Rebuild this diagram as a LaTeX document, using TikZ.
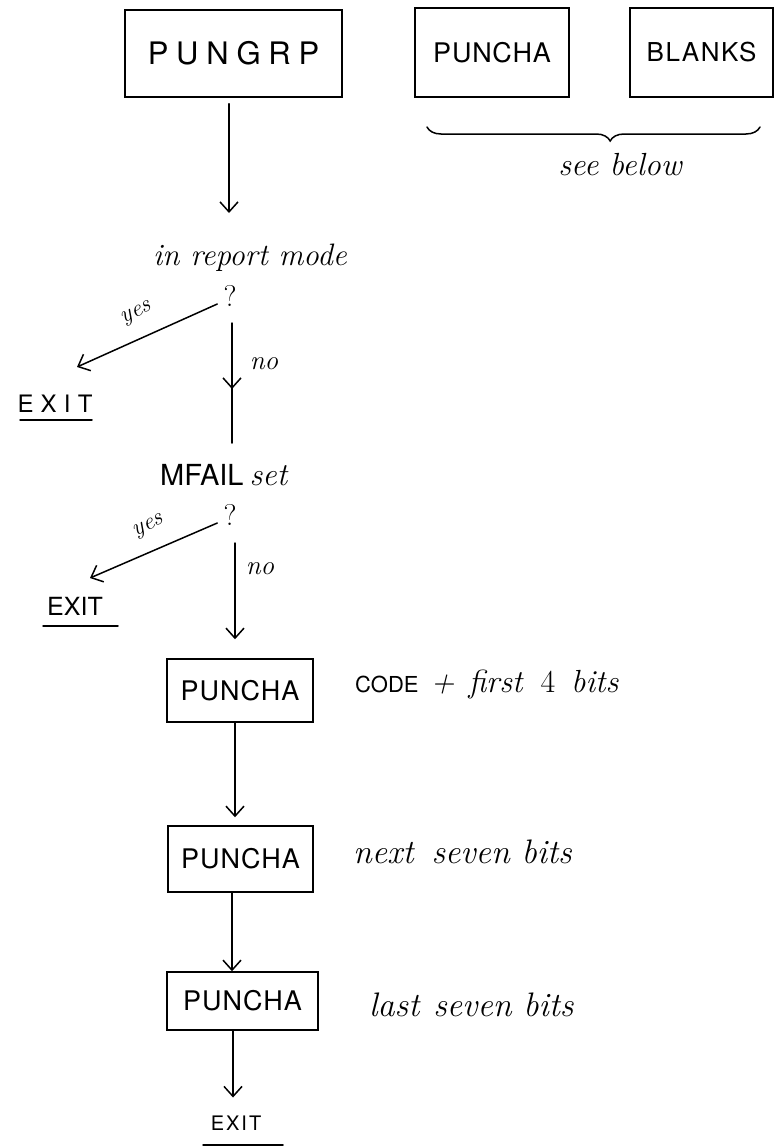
\documentclass[tikz,border=0pt]{standalone}
\usepackage{fontspec}
\setsansfont{TeX Gyre Heros}
\usetikzlibrary{arrows.meta,decorations.pathreplacing,decorations.markings}
\tikzset{
  ln/.style={line width=1.5pt, black, line cap=round},
  arr/.style={ln, -{Straight Barb[length=10pt,width=18pt,line width=1.5pt]}},
  midarr/.style={ln, postaction={decorate}, decoration={markings,
      mark=at position #1 with {\arrow{Straight Barb[length=10pt,width=18pt,line width=1.5pt]}}}},
  box/.style={draw, line width=1.5pt, inner sep=0pt, font=\sffamily},
  hand/.style={inner sep=0pt, font=\itshape\fontsize{32}{36}\selectfont},
  caps/.style={inner sep=0pt, font=\sffamily},
  qmark/.style={inner sep=0pt, font=\fontsize{30}{34}\selectfont},
}
\begin{document}
\begin{tikzpicture}[x=1pt,y=-1pt]
\useasboundingbox (0,0) rectangle (779,1148);

% top row
\node[box, minimum width=217pt, minimum height=87pt] (pungrp) at (233.5,53.5)
  {\fontsize{31}{34}\selectfont\addfontfeatures{LetterSpace=25}PUNGRP};
\node[box, minimum width=154pt, minimum height=89pt] (punchaT) at (492,52.5)
  {\fontsize{27}{30}\selectfont\addfontfeatures{LetterSpace=3}PUNCHA};
\node[box, minimum width=143pt, minimum height=89pt] (blanks) at (701.5,52.5)
  {\fontsize{26}{30}\selectfont\addfontfeatures{LetterSpace=6}BLANKS};
\coordinate (brL) at (427,127);
\coordinate (brR) at (760,127);
\draw[ln, decorate, decoration={brace, mirror, amplitude=14pt, aspect=0.55}] (brL) -- (brR);
\node[hand, anchor=base] (seebelow) at (620,175) {see below};

% first question
\coordinate (c1) at (229,213);
\draw[arr] ([yshift=-6pt]pungrp.south -| c1) -- (c1);
\node[hand, anchor=base, font=\itshape\fontsize{31}{36}\selectfont] (q1text) at (250,265) {in report mode};
\node[qmark] (q1) at (230,296) {?};
\coordinate (e1tip) at (77,367);
\draw[arr] ([xshift=-6pt,yshift=-8pt]q1.west) -- (e1tip);
\node[hand, font=\itshape\fontsize{24}{28}\selectfont, rotate=24.6] (yes1) at (137,314) {yes};
\node[caps, font=\sffamily\fontsize{24}{28}\selectfont\addfontfeatures{LetterSpace=30}] (exit1) at (55,404) {EXIT};
\draw[ln] (20,420) coordinate (u1a) -- (92,420);
\coordinate (n1s) at (232,323);
\coordinate (n1e) at (232,443);
\draw[midarr=0.55] (n1s) -- (n1e);
\node[hand, font=\itshape\fontsize{27}{30}\selectfont] (no1) at (264,364) {no};

% second question
\node[hand, anchor=base west] (mfail) at (160,485)
  {{\upshape\sffamily\fontsize{29}{32}\selectfont MFAIL}\hspace{6pt}set};
\node[qmark] (q2) at (230,515) {?};
\coordinate (e2tip) at (90,578);
\draw[arr] ([xshift=-6pt,yshift=-8pt]q2.west) -- (e2tip);
\node[hand, font=\itshape\fontsize{24}{28}\selectfont, rotate=24.5] (yes2) at (149,527) {yes};
\node[caps, font=\sffamily\fontsize{25}{28}\selectfont] (exit2) at (75,606) {EXIT};
\draw[ln] (43,626) coordinate (u2a) -- (118,626);
\coordinate (n2s) at (235,543);
\node[hand, font=\itshape\fontsize{27}{30}\selectfont] (no2) at (260,569) {no};

% PUNCHA chain
\node[box, minimum width=146pt, minimum height=63pt] (p1) at (240,690.5)
  {\fontsize{27}{30}\selectfont\addfontfeatures{LetterSpace=4}PUNCHA};
\draw[arr] (n2s) -- ([xshift=-5pt,yshift=19pt]p1.north);
\node[box, minimum width=145pt, minimum height=66pt] (p2) at (240.5,859)
  {\fontsize{27}{30}\selectfont\addfontfeatures{LetterSpace=4}PUNCHA};
\node[box, minimum width=151pt, minimum height=58pt] (p3) at (242.5,1001)
  {\fontsize{27}{30}\selectfont\addfontfeatures{LetterSpace=4}PUNCHA};
\node[caps, font=\sffamily\fontsize{20}{24}\selectfont\addfontfeatures{LetterSpace=10}] (exit3) at (236,1123) {EXIT};
\draw[ln] (203,1145) -- (283,1145);

\draw[arr] ([xshift=-5pt]p1.south) -- ([xshift=-5.5pt,yshift=8pt]p2.north);
\draw[arr] ([xshift=-8.5pt]p2.south) -- ([xshift=-10.5pt]p3.north);
\draw[arr] ([xshift=-9.5pt]p3.south) -- ([xshift=-3pt,yshift=18pt]exit3.north);

% annotations
\node[hand, anchor=base west] (ann1) at (355,692)
  {{\upshape\sffamily\fontsize{22}{24}\selectfont CODE}\hspace{12pt}+\hspace{14pt}first\hspace{18pt}{\upshape 4}\hspace{16pt}bits};
\node[hand, anchor=base west, font=\itshape\fontsize{34}{38}\selectfont] (ann2) at (353,863) {next\hspace{18pt}seven bits};
\node[hand, anchor=base west, font=\itshape\fontsize{34}{38}\selectfont] (ann3) at (369,1016) {last\hspace{14pt}seven bits};
\end{tikzpicture}
\end{document}
